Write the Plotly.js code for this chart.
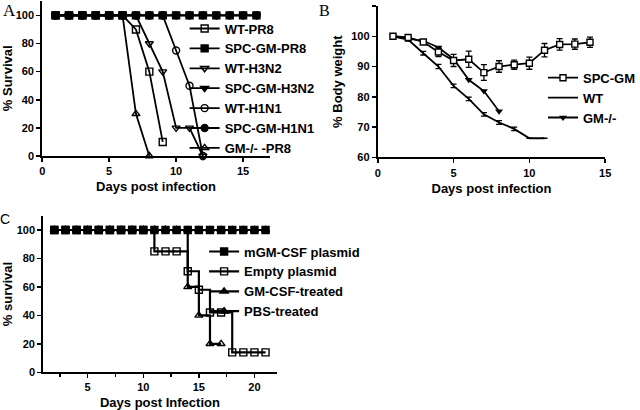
<!DOCTYPE html>
<html>
<head>
<meta charset="utf-8">
<script src="https://cdn.plot.ly/plotly-3.0.1.min.js"></script>
<style>html,body{margin:0;padding:0;background:#fff}#chart{width:640px;height:410px}</style>
</head>
<body>
<div id="chart"></div>
<script>
// ---------- Panel A: % Survival ----------
const daysA = [1,2,3,4,5,6,7,8,9,10,11,12,13,14,15,16];
const wtPR8Days = [1,2,3,4,5,6,7,8,9];
const wtPR8 = [100,100,100,100,100,100,90,60,10];
const spcPR8 = [100,100,100,100,100,100,100,100,100,100,100,100,100,100,100,100];
const wtH3N2Days = [1,2,3,4,5,6,7,8,9,10,11,12];
const wtH3N2 = [100,100,100,100,100,100,100,80,60,20,20,0];
const spcH3N2 = [100,100,100,100,100,100,100,100,100,100,100,100,100,100,100,100];
const wtH1N1Days = [1,2,3,4,5,6,7,8,9,10,11,12];
const wtH1N1 = [100,100,100,100,100,100,100,100,100,75,50,0];
const spcH1N1 = [100,100,100,100,100,100,100,100,100,100,100,100,100,100,100,100];
const gmPR8Days = [1,2,3,4,5,6,7,8];
const gmPR8 = [100,100,100,100,100,100,30,0];
const namesA = ["WT-PR8","SPC-GM-PR8","WT-H3N2","SPC-GM-H3N2","WT-H1N1","SPC-GM-H1N1","GM-/- -PR8"];

// ---------- Panel B: % Body weight ----------
const daysSPC = [1,2,3,4,5,6,7,8,9,10,11,12,13,14];
const spcGM = [100,99.6,98.1,94.8,92.0,92.4,88.0,90.0,90.6,91.1,95.4,97.3,97.4,98.0];
const spcGMErr = [0.5,0.5,0.8,1.5,2.0,2.7,2.6,1.9,1.5,2.0,2.2,1.9,1.7,1.7];
const daysWT = [1,2,3,4,5,6,7,8,9,10,11];
const wtBW = [100,98.9,94.4,90.0,83.6,79.3,74.2,71.5,69.4,66.3,66.3];
const wtBWErr = [0.3,0.5,0.6,0.7,0.6,0.6,0.6,0.6,0.6,0,0];
const daysGM = [1,2,3,4,5,6,7,8];
const gmBW = [100,99.3,98.5,96.3,92.5,85.6,81.9,75.2];
const namesB = ["SPC-GM","WT","GM-/-"];

// ---------- Panel C: % survival ----------
const daysC = [2,3,4,5,6,7,8,9,10,11,12,13,14,15,16,17,18,19,20,21];
const mgmPlasmid = [100,100,100,100,100,100,100,100,100,100,100,100,100,100,100,100,100,100,100,100];
const emptyPlasmid = [100,100,100,100,100,100,100,100,100,85,85,85,71,58,42,42,14,14,14,14];
const gmTreated = [100,100,100,100,100,100,100,100,100,100,100,100,100,100,100,100,100,100,100,100];
const daysPBS = [2,3,4,5,6,7,8,9,10,11,12,13,14,15,16,17];
const pbsTreated = [100,100,100,100,100,100,100,100,100,100,100,100,60,40,20,20];
const namesC = ["mGM-CSF plasmid","Empty plasmid","GM-CSF-treated","PBS-treated"];

const K = '#000';
function tr(x, y, name, symbol, opts) {
  return Object.assign({
    type:'scatter', mode:'lines+markers', x:x, y:y, name:name,
    line:{color:K, width:1.8},
    marker:{symbol:symbol, size:7, color:K, line:{color:K, width:1.4}},
    cliponaxis:false
  }, opts);
}

const traces = [
  // Panel A (drawing order: open markers first, filled ones on top)
  tr(wtPR8Days, wtPR8, namesA[0], 'square-open', {xaxis:'x', yaxis:'y', legend:'legend', legendrank:1}),
  tr(wtH3N2Days, wtH3N2, namesA[2], 'triangle-down-open', {xaxis:'x', yaxis:'y', legend:'legend', legendrank:3}),
  tr(wtH1N1Days, wtH1N1, namesA[4], 'circle-open', {xaxis:'x', yaxis:'y', legend:'legend', legendrank:5}),
  tr(gmPR8Days, gmPR8, namesA[6], 'triangle-up-open', {xaxis:'x', yaxis:'y', legend:'legend', legendrank:7}),
  tr(daysA, spcH1N1, namesA[5], 'circle', {xaxis:'x', yaxis:'y', legend:'legend', legendrank:6}),
  tr(daysA, spcH3N2, namesA[3], 'triangle-down', {xaxis:'x', yaxis:'y', legend:'legend', legendrank:4}),
  tr(daysA, spcPR8, namesA[1], 'square', {xaxis:'x', yaxis:'y', legend:'legend', legendrank:2}),

  // Panel B
  tr(daysWT, wtBW, namesB[1], 'circle', {xaxis:'x2', yaxis:'y2', legend:'legend2', legendrank:2, mode:'lines',
     error_y:{type:'data', array:wtBWErr, visible:true, color:K, thickness:1.3, width:3}}),
  tr(daysGM, gmBW, namesB[2], 'triangle-down', {xaxis:'x2', yaxis:'y2', legend:'legend2', legendrank:3, marker:{symbol:'triangle-down', size:7, color:K}}),
  tr(daysSPC, spcGM, namesB[0], 'square-open', {xaxis:'x2', yaxis:'y2', legend:'legend2', legendrank:1,
     marker:{symbol:'square', size:6, color:'#fff', line:{color:K, width:1.4}},
     error_y:{type:'data', array:spcGMErr, visible:true, color:K, thickness:1.3, width:3}}),

  // Panel C
  tr(daysC, gmTreated, namesC[2], 'triangle-up', {xaxis:'x3', yaxis:'y3', legend:'legend3', legendrank:3, line:{color:K, width:2.2, shape:'hv'}}),
  tr(daysPBS, pbsTreated, namesC[3], 'triangle-up-open', {xaxis:'x3', yaxis:'y3', legend:'legend3', legendrank:4, line:{color:K, width:2.2, shape:'hv'}}),
  tr(daysC, emptyPlasmid, namesC[1], 'square-open', {xaxis:'x3', yaxis:'y3', legend:'legend3', legendrank:2, line:{color:K, width:2.2, shape:'hv'}}),
  tr(daysC, mgmPlasmid, namesC[0], 'square', {xaxis:'x3', yaxis:'y3', legend:'legend3', legendrank:1, line:{color:K, width:2.2, shape:'hv'}})
];

const FONT = 'Liberation Sans, Arial, sans-serif';
const tickFont = {family:FONT, size:11, color:K, weight:'bold'};
const titleFont = {family:FONT, size:13, color:K, weight:'bold'};
function ax(extra) {
  return Object.assign({
    showline:true, linecolor:K, linewidth:2, ticks:'outside', ticklen:4, tickwidth:1.5, tickcolor:K,
    showgrid:false, zeroline:false, tickfont:tickFont, fixedrange:true, automargin:false
  }, extra);
}
function leg(x, y) {
  return {x:x, y:y, xanchor:'left', yanchor:'top', bgcolor:'rgba(0,0,0,0)', borderwidth:0,
          font:{family:FONT, size:13, color:K, weight:'bold'}, itemwidth:30, tracegroupgap:0, traceorder:'normal'};
}

const layout = {
  width:640, height:410, margin:{l:0, r:0, t:0, b:0},
  paper_bgcolor:'#fff', plot_bgcolor:'rgba(0,0,0,0)',
  font:{family:FONT, color:K},
  showlegend:true,
  xaxis: ax({domain:[0.0672, 0.4297], range:[0,17], tickvals:[0,5,10,15], anchor:'y',
             title:{text:'Days post infection', font:titleFont, standoff:6}}),
  yaxis: ax({domain:[0.6195, 0.9985], range:[0,110.5], tickvals:[0,20,40,60,80,100], anchor:'x',
             title:{text:'% Survival', font:titleFont, standoff:6}}),
  xaxis2: ax({domain:[0.6016, 0.9636], range:[0,15], tickvals:[0,5,10,15], anchor:'y2',
             title:{text:'Days post infection', font:titleFont, standoff:6}}),
  yaxis2: ax({domain:[0.6163, 0.9854], range:[60,110], tickvals:[60,70,80,90,100,110], anchor:'x2',
             title:{text:'% Body weight', font:titleFont, standoff:6}}),
  xaxis3: ax({domain:[0.0688, 0.4406], range:[1,22], tickvals:[5,10,15,20], anchor:'y3',
             minor:{tickvals:[2.5,7.5,12.5,17.5], ticks:'outside', ticklen:3, tickwidth:1.5, tickcolor:K},
             title:{text:'Days post Infection', font:titleFont, standoff:6}}),
  yaxis3: ax({domain:[0.092, 0.4737], range:[0,110], tickvals:[0,20,40,60,80,100], anchor:'x3',
             title:{text:'% survival', font:titleFont, standoff:6}}),
  legend: leg(0.294, 0.967),
  legend2: leg(0.865, 0.847),
  legend3: leg(0.325, 0.423),
  annotations:[
    {text:'A', xref:'paper', yref:'paper', x:10/640, y:1-10/410, xanchor:'center', yanchor:'middle', showarrow:false,
     font:{family:'Liberation Serif, Times New Roman, serif', size:17, color:K}},
    {text:'B', xref:'paper', yref:'paper', x:331/640, y:1-10/410, xanchor:'center', yanchor:'middle', showarrow:false,
     font:{family:'Liberation Serif, Times New Roman, serif', size:16, color:K}},
    {text:'C', xref:'paper', yref:'paper', x:5/640, y:1-219/410, xanchor:'center', yanchor:'middle', showarrow:false,
     font:{family:FONT, size:14, color:K}}
  ]
};

Plotly.newPlot('chart', traces, layout, {displayModeBar:false, staticPlot:true});
</script>
</body>
</html>
